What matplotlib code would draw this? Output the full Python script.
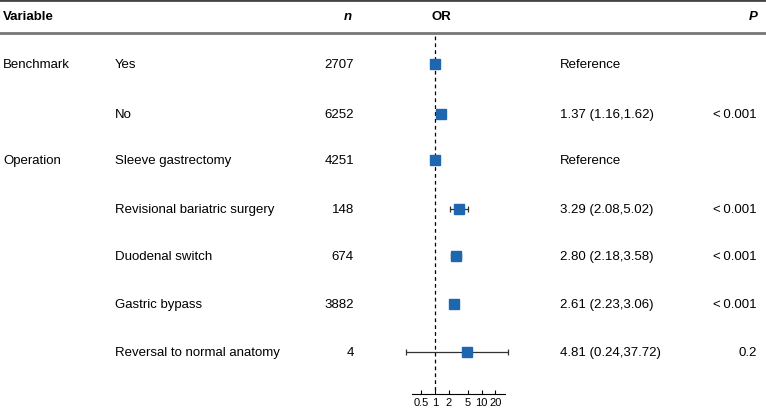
import matplotlib.pyplot as plt
import numpy as np

plt.rcParams['font.family'] = ['Liberation Sans', 'DejaVu Sans']

# table contents
groups = ["Benchmark", "", "Operation", "", "", "", ""]
levels = ["Yes", "No", "Sleeve gastrectomy", "Revisional bariatric surgery",
          "Duodenal switch", "Gastric bypass", "Reversal to normal anatomy"]
n_vals = ["2707", "6252", "4251", "148", "674", "3882", "4"]
or_est = [1.0, 1.37, 1.0, 3.29, 2.80, 2.61, 4.81]
ci_low = [np.nan, 1.16, np.nan, 2.08, 2.18, 2.23, 0.24]
ci_high = [np.nan, 1.62, np.nan, 5.02, 3.58, 3.06, 37.72]
or_text = ["Reference", "1.37 (1.16,1.62)", "Reference", "3.29 (2.08,5.02)",
           "2.80 (2.18,3.58)", "2.61 (2.23,3.06)", "4.81 (0.24,37.72)"]
p_text = ["", "<\u20090.001", "", "<\u20090.001", "<\u20090.001", "<\u20090.001", "0.2"]
xticks = [0.5, 1, 2, 5, 10, 20]

W, H = 766, 410
row_y = [65, 115, 161, 210, 257, 305, 353]
fs = 9.5

fig = plt.figure(figsize=(W / 100, H / 100), dpi=100)

# text layer in pixel coordinates
tx = fig.add_axes([0, 0, 1, 1])
tx.set_xlim(0, W)
tx.set_ylim(H, 0)
tx.axis("off")

tx.plot([0, W], [1, 1], color="#444444", lw=2)
tx.plot([0, W], [34, 34], color="#777777", lw=2)
tx.text(3, 17, "Variable", fontsize=fs, fontweight="bold", va="center")
tx.text(348, 17, "n", fontsize=fs, fontweight="bold", style="italic", va="center", ha="center")
tx.text(441, 17, "OR", fontsize=fs, fontweight="bold", va="center", ha="center")
tx.text(753, 17, "P", fontsize=fs, fontweight="bold", style="italic", va="center", ha="center")

for y, g, lv, nv, ot, pt in zip(row_y, groups, levels, n_vals, or_text, p_text):
    tx.text(3, y, g, fontsize=fs, va="center")
    tx.text(115, y, lv, fontsize=fs, va="center")
    tx.text(354, y, nv, fontsize=fs, va="center", ha="right")
    tx.text(560, y, ot, fontsize=fs, va="center")
    tx.text(757, y, pt, fontsize=fs, va="center", ha="right")

# forest layer: log x, x=1 at 435 px, one decade = 46.5 px
ax = fig.add_axes([0, 0, 1, 1], facecolor="none")
x1, dec = 435.0, 46.5
ax.set_xscale("log")
ax.set_xlim(10 ** (-x1 / dec), 10 ** ((W - x1) / dec))
ax.set_ylim(H, 0)

ax.plot([1, 1], [37, 395], color="black", lw=0.9, ls=(0, (3, 2.5)))

for y, est, lo, hi in zip(row_y, or_est, ci_low, ci_high):
    if not np.isnan(lo):
        ax.errorbar(est, y, xerr=[[est - lo], [hi - est]], fmt="none",
                    ecolor="#333333", elinewidth=0.9, capsize=2.3, capthick=0.9)
    ax.plot(est, y, marker="s", ms=7, color="#1f66b1", ls="none")

for s in ["top", "right", "left"]:
    ax.spines[s].set_visible(False)
ax.spines["bottom"].set_position(("data", 395))
ax.spines["bottom"].set_bounds(0.32, 32)
ax.spines["bottom"].set_linewidth(0.8)
ax.set_xticks(xticks)
ax.set_xticklabels([f"{t:g}" for t in xticks])
ax.xaxis.set_minor_locator(plt.NullLocator())
ax.tick_params(axis="x", direction="in", length=3, width=0.8, labelsize=8, pad=2)
ax.set_yticks([])

fig.savefig("out.png", dpi=100)
